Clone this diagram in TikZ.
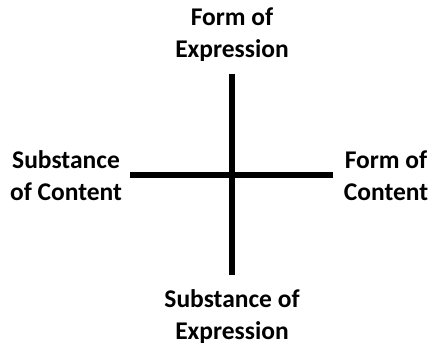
\documentclass[tikz,border=0pt]{standalone}
\usepackage{fontspec}
\setmainfont{Carlito}
\usetikzlibrary{positioning}
\tikzset{
  axislabel/.style={align=center, font=\bfseries\fontsize{25.5}{32}\selectfont, inner sep=0pt},
  axisline/.style={line width=6.5pt}
}
\begin{document}
\begin{tikzpicture}[x=1pt,y=-1pt]
\useasboundingbox (0,0) rectangle (433,345);
% Axis end points
\coordinate (top) at (232,74);
\coordinate (bottom) at (232,275);
\coordinate (left) at (130,175);
\coordinate (right) at (333,175);

% Axes
\draw[axisline] (top) -- (bottom);
\draw[axisline] (left) -- (right);

% Labels
\node[axislabel] (formexpr) at (232,35) {Form of\\Expression};
\node[axislabel] (subscont) at (66,176) {Substance\\of Content};
\node[axislabel] (formcont) at (386,176) {Form of\\Content};
\node[axislabel] (subsexpr) at (232,317) {Substance of\\Expression};
\end{tikzpicture}
\end{document}
